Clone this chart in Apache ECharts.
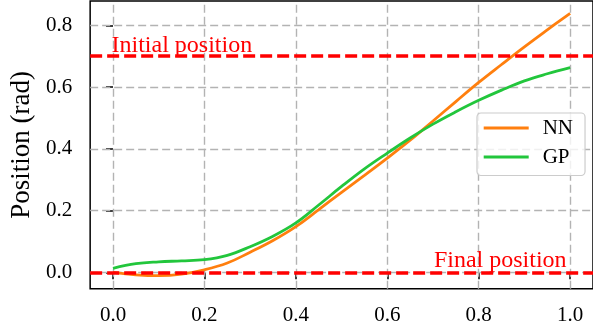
<!DOCTYPE html>
<html>
<head>
<meta charset="utf-8">
<script src="https://cdn.jsdelivr.net/npm/echarts@6/dist/echarts.min.js"></script>
<style>
html,body{margin:0;padding:0;background:#fff;}
#c{width:593px;height:330px;}
</style>
</head>
<body>
<div id="c"></div>
<script>
const xs = [0, 0.05, 0.1, 0.15, 0.2, 0.25, 0.3, 0.35, 0.4, 0.45, 0.5, 0.55, 0.6, 0.65, 0.7, 0.75, 0.8, 0.85, 0.9, 0.95, 1.0];
const nnValues = [0.0, -0.008, -0.011, -0.006, 0.008, 0.03, 0.065, 0.103, 0.148, 0.203, 0.259, 0.314, 0.37, 0.428, 0.49, 0.553, 0.615, 0.673, 0.73, 0.785, 0.839];
const gpValues = [0.013, 0.028, 0.034, 0.037, 0.041, 0.055, 0.083, 0.117, 0.16, 0.218, 0.278, 0.335, 0.386, 0.435, 0.48, 0.52, 0.557, 0.59, 0.62, 0.643, 0.663];
const xTicks = [0, 0.2, 0.4, 0.6, 0.8, 1.0];
const yTicks = [0, 0.2, 0.4, 0.6, 0.8];
const initialPos = 0.7;
const finalPos = 0.0;

const FONT = "'Liberation Serif', 'DejaVu Serif', serif";
const chart = echarts.init(document.getElementById('c'), null, {renderer: 'canvas'});
const pairs = (v) => xs.map((x, i) => [x, v[i]]);
const gridStyle = {color: '#b3b3b3', width: 1.4, type: [8, 4]};

chart.setOption({
  animation: false,
  backgroundColor: '#fff',
  grid: {left: 89, top: 1, width: 506.3, height: 287.7, show: true, borderColor: '#000', borderWidth: 1.5, backgroundColor: 'transparent'},
  xAxis: {
    type: 'value', min: -0.05, max: 1.05,
    axisLine: {show: false},
    splitLine: {show: false},
    axisTick: {show: true, customValues: xTicks, length: 7, lineStyle: {color: '#000', width: 1.5}},
    axisLabel: {customValues: xTicks, formatter: v => v.toFixed(1), color: '#000', fontFamily: FONT, fontSize: 21, margin: 16}
  },
  yAxis: {
    type: 'value', min: -0.0531, max: 0.8787,
    axisLine: {show: false},
    splitLine: {show: false},
    axisTick: {show: true, customValues: yTicks, length: 7, lineStyle: {color: '#000', width: 1.5}},
    axisLabel: {customValues: yTicks, formatter: v => v.toFixed(1), color: '#000', fontFamily: FONT, fontSize: 21, margin: 18},
    name: 'Position (rad)', nameLocation: 'middle', nameRotate: 90, nameGap: 55,
    nameTextStyle: {color: '#000', fontFamily: FONT, fontSize: 27}
  },
  legend: {
    data: ['NN', 'GP'], orient: 'vertical', left: 477, top: 113,
    icon: 'rect', itemWidth: 45, itemHeight: 3, itemGap: 8,
    padding: [4.5, 12, 8, 6.7],
    borderColor: '#cccccc', borderWidth: 1.2, borderRadius: 4, backgroundColor: 'rgba(255,255,255,0.8)',
    textStyle: {color: '#000', fontFamily: FONT, fontSize: 21, padding: [0, 0, 0, 9]}
  },
  series: [
    {
      name: 'grid', type: 'line', data: [], silent: true, z: 1,
      markLine: {
        silent: true, symbol: 'none', z: 1, animation: false,
        label: {show: false},
        lineStyle: gridStyle,
        emphasis: {disabled: true},
        data: xTicks.map(v => ({xAxis: v})).concat(yTicks.map(v => ({yAxis: v})))
      }
    },
    {
      name: 'NN', type: 'line', data: pairs(nnValues), smooth: 0.4, showSymbol: false, symbol: 'none',
      lineStyle: {color: '#ff7f0e', width: 2.8}, itemStyle: {color: '#ff7f0e'}, z: 3
    },
    {
      name: 'GP', type: 'line', data: pairs(gpValues), smooth: 0.4, showSymbol: false, symbol: 'none',
      lineStyle: {color: '#22c63c', width: 2.8}, itemStyle: {color: '#22c63c'}, z: 3
    },
    {
      name: 'refs', type: 'line', data: [], silent: true, z: 4,
      markLine: {
        silent: true, symbol: 'none', animation: false,
        label: {show: false},
        lineStyle: {color: '#ff0000', width: 3.5, type: [12, 5]},
        emphasis: {disabled: true},
        data: [{yAxis: initialPos}, {yAxis: finalPos}]
      },
      markPoint: {
        silent: true, symbol: 'circle', symbolSize: 0, animation: false,
        data: [
          {coord: [0, initialPos], label: {show: true, formatter: 'Initial position', position: [0, 0], align: 'left', verticalAlign: 'bottom', offset: [-1.5, 2], color: '#ff0000', fontFamily: FONT, fontSize: 24}},
          {coord: [0.99, finalPos], label: {show: true, formatter: 'Final position', position: [0, 0], align: 'right', verticalAlign: 'bottom', offset: [1, 0.6], color: '#ff0000', fontFamily: FONT, fontSize: 24}}
        ]
      }
    }
  ]
});
</script>
</body>
</html>
